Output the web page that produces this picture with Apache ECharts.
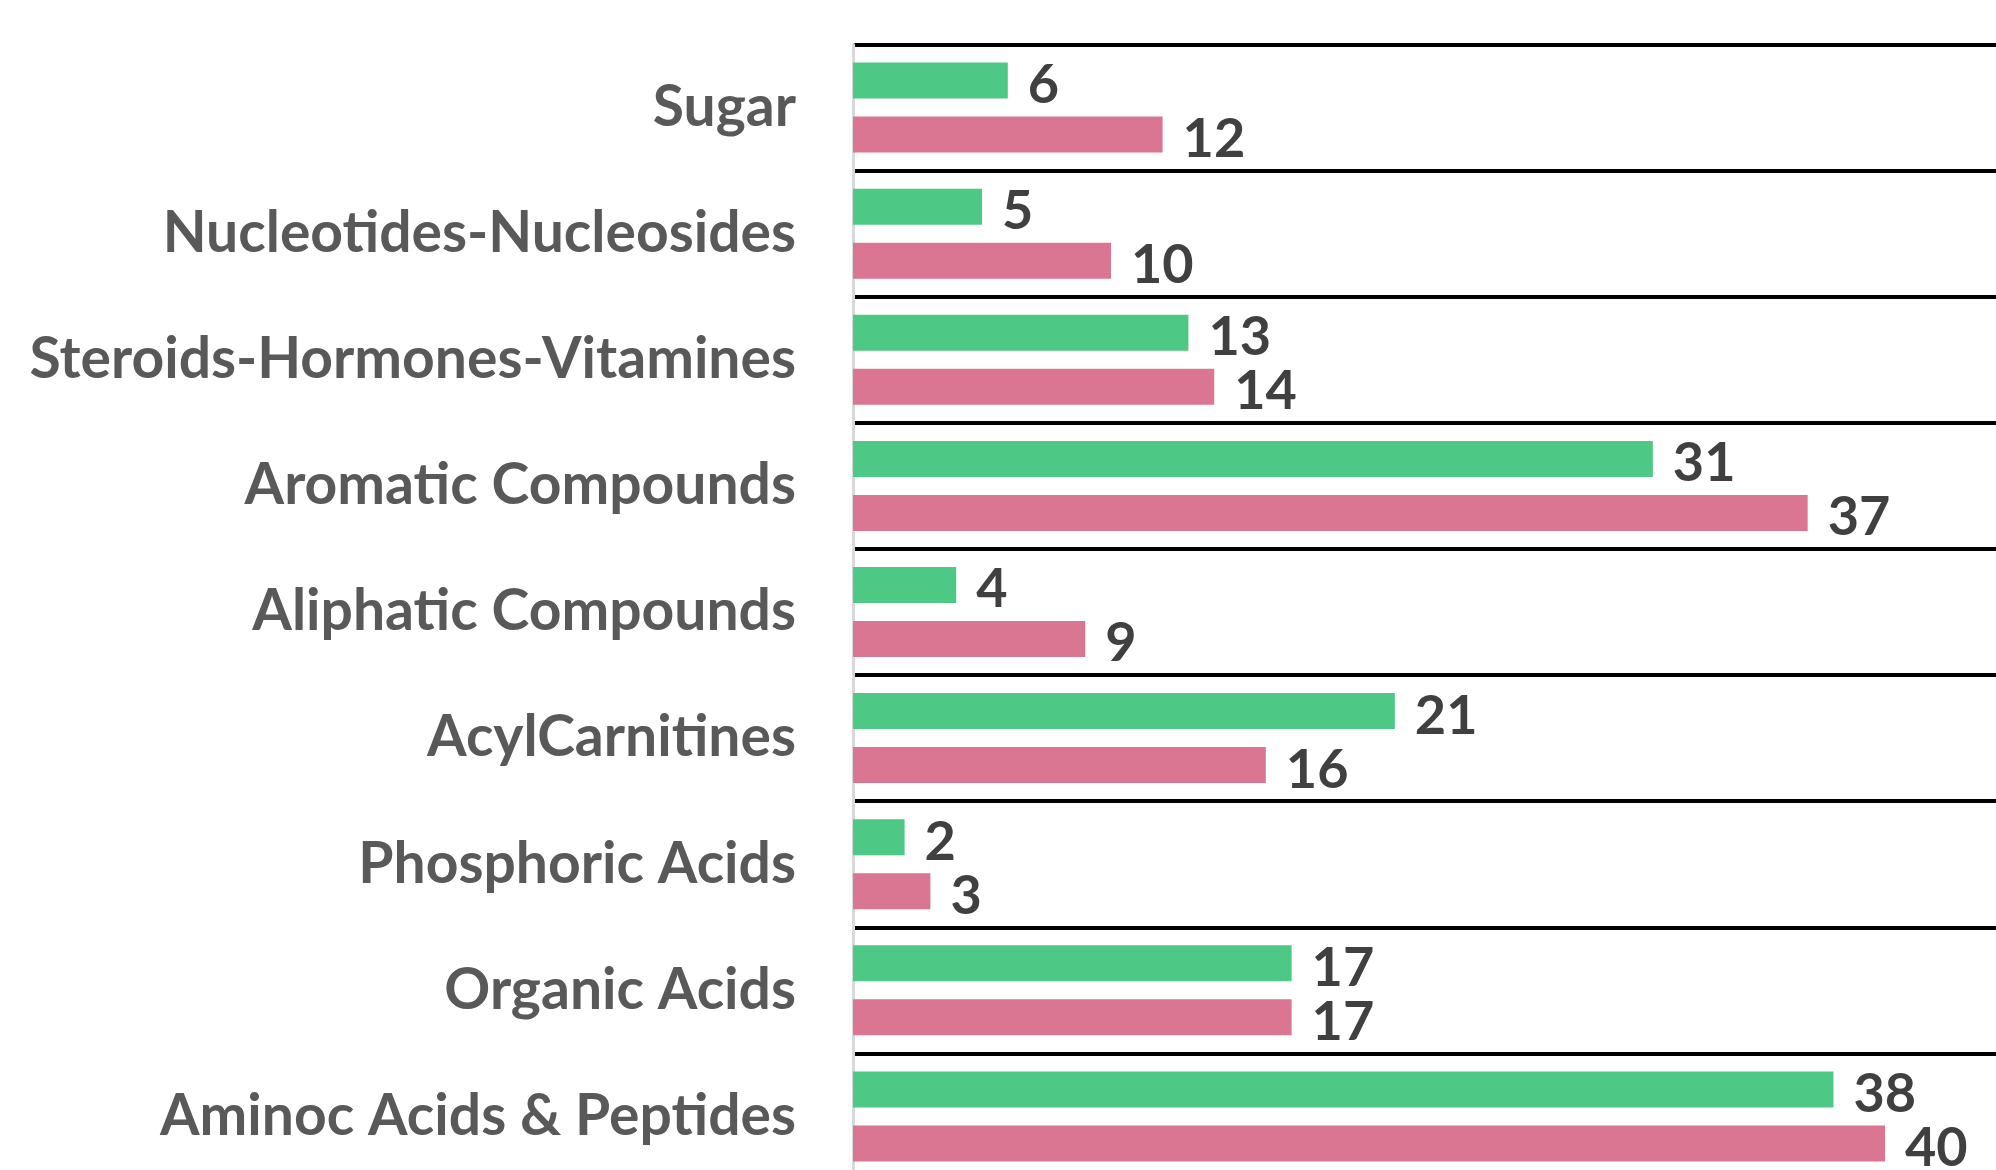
<!DOCTYPE html>
<html>
<head>
<meta charset="utf-8">
<script src="https://cdn.jsdelivr.net/npm/echarts@6/dist/echarts.min.js"></script>
<style>
html,body{margin:0;padding:0;background:#fff;overflow:hidden;}
#chart{width:1996px;height:1220px;}
</style>
</head>
<body>
<div id="chart"></div>
<script>
const categories = ['Sugar', 'Nucleotides-Nucleosides', 'Steroids-Hormones-Vitamines', 'Aromatic Compounds', 'Aliphatic Compounds', 'AcylCarnitines', 'Phosphoric Acids', 'Organic Acids', 'Aminoc Acids & Peptides'];
const greenValues = [6, 5, 13, 31, 4, 21, 2, 17, 38];
const pinkValues = [12, 10, 14, 37, 9, 16, 3, 17, 40];

const chart = echarts.init(document.getElementById('chart'), null, {renderer: 'canvas'});
const labelStyle = {
  show: true,
  position: 'right',
  distance: 20,
  offset: [0, 5],
  fontFamily: 'Lato',
  fontWeight: 'bold',
  fontSize: 54,
  color: '#404040'
};
chart.setOption({
  animation: false,
  backgroundColor: '#ffffff',
  grid: {left: 853, top: 44.5, height: 1135, right: 0, containLabel: false},
  xAxis: {
    type: 'value', min: 0, max: 44.3,
    axisLine: {show: false}, axisTick: {show: false},
    axisLabel: {show: false}, splitLine: {show: false}
  },
  yAxis: {
    type: 'category', data: categories, inverse: true,
    axisLine: {show: true, lineStyle: {color: '#d9d9d9', width: 3}},
    axisTick: {show: false},
    axisLabel: {
      margin: 57, fontFamily: 'Lato', fontWeight: 'bold',
      fontSize: 57, color: '#595959', padding: [8, 0, 0, 0]
    },
    splitLine: {show: true, lineStyle: {color: '#000000', width: 4}}
  },
  series: [
    {
      name: 'Series A', type: 'bar', data: greenValues,
      barWidth: 36, barGap: '50%',
      itemStyle: {color: '#4DC985'},
      label: labelStyle
    },
    {
      name: 'Series B', type: 'bar', data: pinkValues,
      barWidth: 36, barGap: '50%',
      itemStyle: {color: '#DA7592'},
      label: labelStyle
    }
  ]
});
</script>
</body>
</html>
